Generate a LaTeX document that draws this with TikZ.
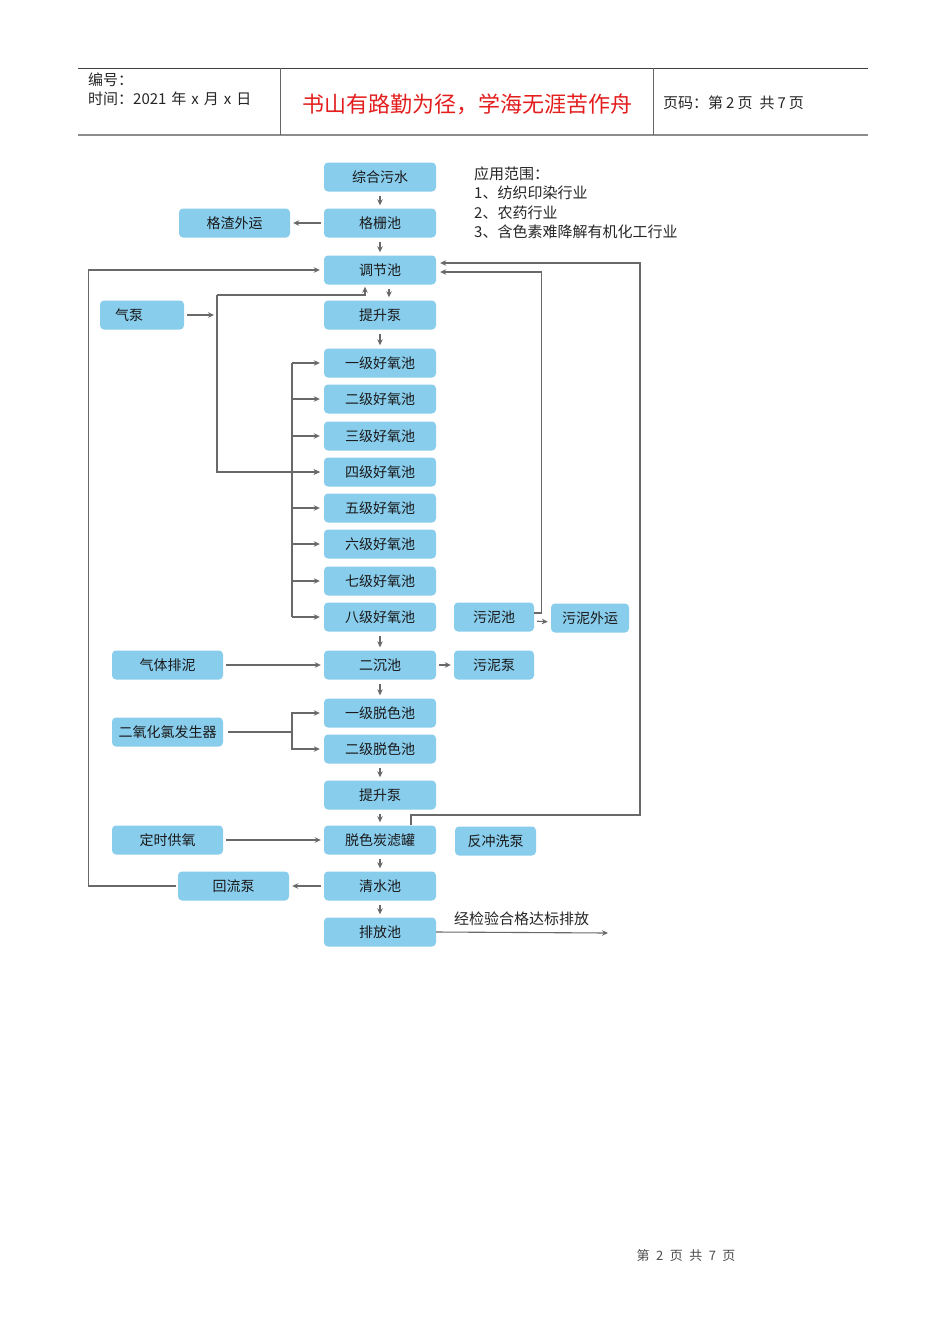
\documentclass[tikz,border=0pt]{standalone}
\usepackage{fontspec}
\setmainfont{Noto Sans CJK SC}
\usepackage{xcolor}
\usetikzlibrary{arrows.meta,calc}
\definecolor{boxblue}{RGB}{137,205,237}
\definecolor{linegray}{RGB}{105,105,105}
\definecolor{mottored}{RGB}{228,30,30}

\begin{document}
\begin{tikzpicture}[x=1pt, y=-1pt, >={Stealth[length=6pt,width=5.5pt]},
  box/.style={fill=boxblue, rounded corners=4pt, minimum width=112pt, minimum height=29pt,
    inner sep=0pt, text=black!90, font=\fontsize{14}{16}\selectfont},
  flow/.style={draw=linegray, line width=1.1pt},
  down/.style={flow, ->, shorten <=4pt, shorten >=3pt},
  side/.style={flow, ->, shorten <=3pt, shorten >=3pt},
  txt/.style={anchor=west, inner sep=0pt, text=black!85, font=\fontsize{15}{17}\selectfont}]
\useasboundingbox (0,0) rectangle (950,1344);
\fill[white] (0,0) rectangle (950,1344);

% header
\draw[black!75, line width=0.8pt] (78,68) -- (868,68);
\draw[black!45, line width=1.6pt] (78,135) -- (868,135);
\draw[black!60, line width=0.8pt] (280,68) -- (280,135) (653,68) -- (653,135);
\node[txt] (docno) at (88,80) {编号：};
\node[txt] (date) at (88,99) {时间：2021\hspace{5pt}年\hspace{5pt}x\hspace{5pt}月\hspace{5pt}x\hspace{5pt}日};
\node[font=\fontsize{22}{25}\selectfont, text=mottored] (motto) at (467,104) {书山有路勤为径，学海无涯苦作舟};
\node[txt] (pages) at (663,103) {页码：第\hspace{3pt}2\hspace{3pt}页\hspace{7pt}共\hspace{3pt}7\hspace{3pt}页};

% main line
\node[box] (sewage) at (380,177) {综合污水};
\node[box] (screen) at (380,223) {格栅池};
\node[box] (adjust) at (380,270) {调节池};
\node[box] (lift) at (380,315) {提升泵};
\foreach \n/\lab/\yy in {1/一/363, 2/二/399, 3/三/436, 4/四/472, 5/五/508, 6/六/544, 7/七/581, 8/八/617}
  \node[box] (tank\n) at (380,\yy) {\lab 级好氧池};
\node[box] (settle) at (380,665) {二沉池};
\node[box] (decol1) at (380,713) {一级脱色池};
\node[box] (decol2) at (380,749) {二级脱色池};
\node[box] (lift2) at (380,795) {提升泵};
\node[box] (filter) at (380,840) {脱色炭滤罐};
\node[box] (clear) at (380,886) {清水池};
\node[box] (outfall) at (380,932) {排放池};

% side units
\node[box, minimum width=111pt] (slag) at (234.5,223) {格渣外运};
\node[box, minimum width=84pt, text width=54pt, align=left] (blower) at (142,315) {气泵};
\node[box, minimum width=111pt] (gasmud) at (167.5,665) {气体排泥};
\node[box, minimum width=111pt] (clo2) at (167.5,732) {二氧化氯发生器};
\node[box, minimum width=111pt] (oxygen) at (167.5,840) {定时供氧};
\node[box, minimum width=111pt] (reflux) at (233.5,886) {回流泵};
\node[box, minimum width=80pt] (mudtank) at (494,617) {污泥池};
\node[box, minimum width=78pt] (mudout) at (590,618) {污泥外运};
\node[box, minimum width=80pt] (mudpump) at (494,665) {污泥泵};
\node[box, minimum width=81pt] (backwash) at (495.5,841) {反冲洗泵};

% scope of use
\node[txt] (scope) at (474,174) {应用范围：};
\node[txt] (scope1) at (474,193) {1、纺织印染行业};
\node[txt] (scope2) at (474,213) {2、农药行业};
\node[txt] (scope3) at (474,232) {3、含色素难降解有机化工行业};

% flow down the main line
\draw[down] (sewage) -- (screen);
\draw[down] (screen) -- (adjust);
\draw[down] ([xshift=9pt]adjust.south) -- ([xshift=9pt]lift.north);
\draw[down] (lift) -- (tank1);
\draw[down] (tank8) -- (settle);
\draw[down] (settle) -- (decol1);
\draw[down] (decol2) -- (lift2);
\draw[down] (lift2) -- (filter);
\draw[down] (filter) -- (clear);
\draw[down] (clear) -- (outfall);

% side arrows
\draw[side] (screen) -- (slag);
\draw[side] (clear) -- (reflux);
\draw[side] (settle) -- (mudpump);
\draw[side] (gasmud) -- (settle);
\draw[side] (oxygen) -- (filter);
\draw[side] ([yshift=-4pt]mudtank.east) -- ([yshift=-4pt]mudout.west);

% aeration
\coordinate (airbus) at (217,295);
\coordinate (bus) at (292,0);
\draw[side] (blower.east) -- (blower.east -| airbus);
\draw[flow, ->, shorten >=2pt] (airbus) -| ([xshift=-15pt]adjust.south);
\draw[flow, ->, shorten >=4pt] (airbus) |- (tank4.west);
\draw[flow] (tank1.west -| bus) -- (tank8.west -| bus);
\foreach \n in {1,...,8}
  \draw[flow, ->, shorten >=4pt] (tank\n.west -| bus) -- (tank\n.west);

% chlorine dioxide dosing
\draw[flow, shorten <=5pt] (clo2.east) -- (clo2.east -| bus);
\draw[flow, ->, shorten >=4pt] (clo2.east -| bus) |- (decol1.west);
\draw[flow, ->, shorten >=4pt] (clo2.east -| bus) |- (decol2.west);

% return lines
\draw[flow, ->, shorten <=2pt, shorten >=4pt] (reflux.west) -- ++(-89,0) |- (adjust.west);
\draw[flow, ->, shorten >=4pt] ([yshift=4pt]mudtank.east) -- ++(7,0) |- ([yshift=-2pt]adjust.east);
\draw[flow, ->, shorten >=4pt] ([xshift=31pt]filter.north) |- (640,815) |- ([yshift=7pt]adjust.east);

% discharge
\coordinate (outlet) at (608,933);
\draw[flow, ->] (outfall.east) -- (outlet);
\node[txt] (pass) at (454,919) {经检验合格达标排放};

% footer
\node[font=\fontsize{13}{15}\selectfont, text=black!70] (pageno) at (686,1256) {第\enspace 2\enspace 页\enspace 共\enspace 7\enspace 页};
\end{tikzpicture}
\end{document}
